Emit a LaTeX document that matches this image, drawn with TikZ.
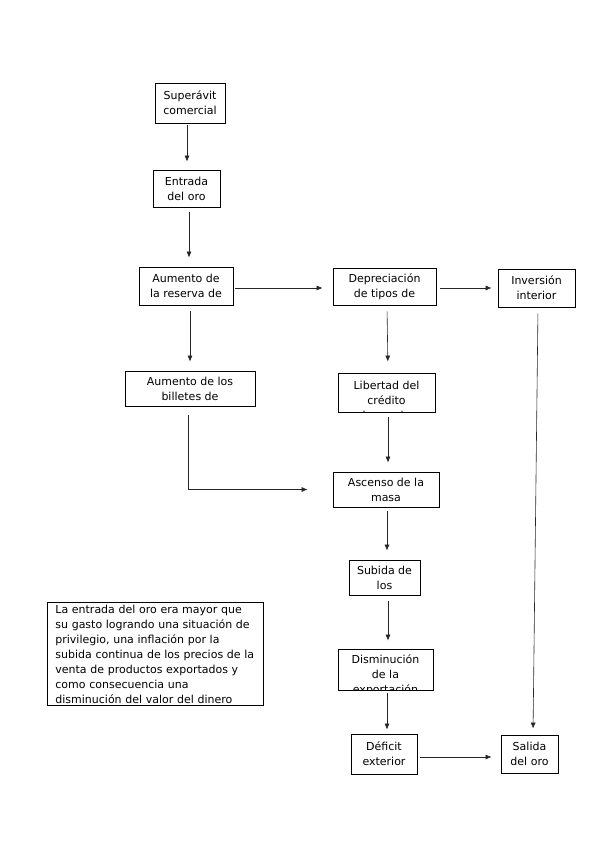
\documentclass[tikz,border=0pt]{standalone}
\usepackage{fontspec}
\setmainfont{DejaVu Sans}
\usetikzlibrary{arrows.meta}

\begin{document}
\begin{tikzpicture}[
    x=1pt, y=-1pt,
    font=\fontsize{11}{15}\selectfont,
    box/.style={draw, line width=0.8pt, align=center, inner sep=0pt, fill=white},
    notebox/.style={draw, line width=0.8pt, align=left, anchor=north west, text width=200pt,
        inner xsep=8pt, inner ysep=1pt, minimum width=216pt, minimum height=103pt},
    cliptext/.style={anchor=north, align=center, inner sep=0pt},
    arrow/.style={-{Latex[length=6pt,width=5pt]}, line width=0.6pt, draw=black!85}
]
\useasboundingbox (0,0) rectangle (599,848);

% ===================== LEFT COLUMN =====================
\node[box, minimum width=70pt, minimum height=40pt] (sup) at (190,103) {Superávit\\comercial};
\node[box, minimum width=67pt, minimum height=37pt] (ent) at (186.5,188.5) {Entrada\\del oro};
\node[box, minimum width=94pt, minimum height=38pt] (res) at (186,286) {Aumento de\\la reserva de};
\node[box, minimum width=130pt, minimum height=35pt] (bil) at (190,388.5) {Aumento de los\\billetes de};

% ===================== MIDDLE COLUMN =====================
\node[box, minimum width=103pt, minimum height=37pt] (dep) at (384.5,286.5) {Depreciación\\de tipos de};
\node[box, minimum width=97pt, minimum height=39pt,
      path picture={\node[cliptext] at ([yshift=-7pt]path picture bounding box.north)
      {Libertad del\\crédito\\bancario};}] (lib) at (386.5,392.5) {};
\node[box, minimum width=106pt, minimum height=35pt] (asc) at (386,489.5) {Ascenso de la\\masa};
\node[box, minimum width=71pt, minimum height=35pt] (sub) at (384.5,577.5) {Subida de\\los};
\node[box, minimum width=95pt, minimum height=41pt,
      path picture={\node[cliptext] at ([yshift=-5pt]path picture bounding box.north)
      {Disminución\\de la\\exportación};}] (dis) at (385.5,669.5) {};
\node[box, minimum width=66pt, minimum height=40pt] (def) at (384,754) {Déficit\\exterior};

% ===================== RIGHT COLUMN =====================
\node[box, minimum width=77pt, minimum height=38pt] (inv) at (536.5,288) {Inversión\\interior};
\node[box, minimum width=57pt, minimum height=38pt] (sal) at (529.5,754) {Salida\\del oro};

% ===================== NOTE =====================
\node[notebox] (note) at (47,602) {La entrada del oro era mayor que\\
su gasto logrando una situación de\\
privilegio, una inflación por la\\
subida continua de los precios de la\\
venta de productos exportados y\\
como consecuencia una\\
disminución del valor del dinero};

% ===================== ARROWS =====================
\draw[arrow, shorten <=2pt, shorten >=8pt] ([xshift=-3pt]sup.south) -- ([xshift=0.5pt]ent.north);
\draw[arrow, shorten <=5pt, shorten >=9pt] ([xshift=2.5pt]ent.south) -- ([xshift=3pt]res.north);
\draw[arrow, shorten <=2pt, shorten >=10pt] ([yshift=-2pt]res.east) -- ([yshift=-1.5pt]dep.west);
\draw[arrow, shorten <=4pt, shorten >=6pt] ([yshift=-1.5pt]dep.east) -- (inv.west);
\draw[arrow, shorten <=6pt, shorten >=9pt] ([xshift=4pt]res.south) -- (bil.north);
\draw[arrow, shorten <=6pt, shorten >=11pt] ([xshift=2.5pt]dep.south) -- ([xshift=1.5pt]lib.north);
\draw[arrow, shorten <=6pt, shorten >=6pt] ([xshift=1.5pt]inv.south) -- ([xshift=3.5pt]sal.north);
\draw[arrow, shorten <=9pt, shorten >=25pt] ([xshift=-2pt]bil.south) |- (asc.west);
\draw[arrow, shorten <=5pt, shorten >=9pt] ([xshift=1.5pt]lib.south) -- ([xshift=2pt]asc.north);
\draw[arrow, shorten <=4pt, shorten >=9pt] ([xshift=1pt]asc.south) -- ([xshift=2.5pt]sub.north);
\draw[arrow, shorten <=6pt, shorten >=8pt] ([xshift=3.5pt]sub.south) -- ([xshift=2.5pt]dis.north);
\draw[arrow, shorten <=3pt, shorten >=4pt] ([xshift=1.5pt]dis.south) -- ([xshift=3pt]def.north);
\draw[arrow, shorten <=3pt, shorten >=9pt] ([yshift=-3pt]def.east) -- ([yshift=-3pt]sal.west);

\end{tikzpicture}
\end{document}
